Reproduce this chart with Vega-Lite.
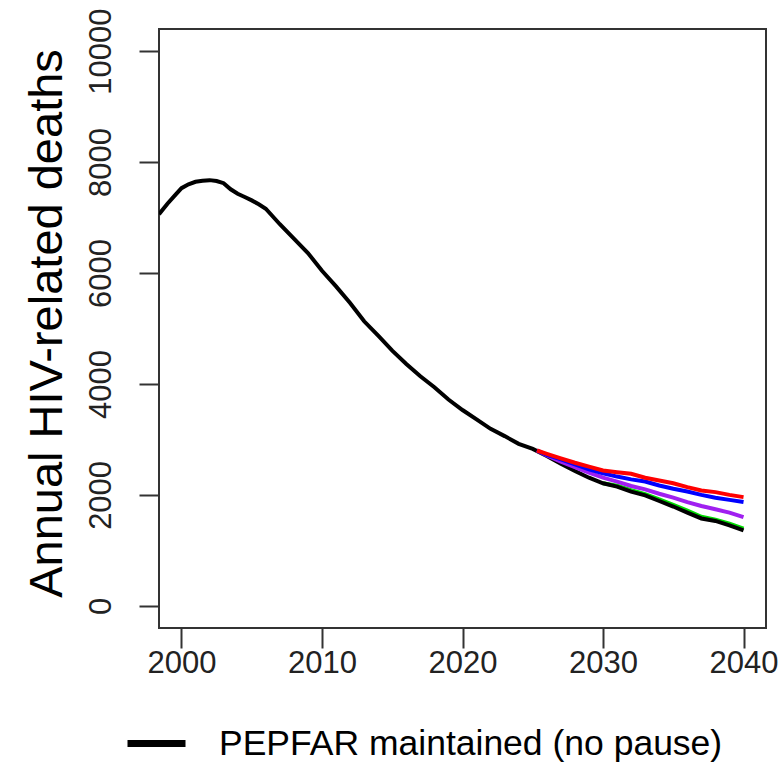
{
  "$schema": "https://vega.github.io/schema/vega-lite/v6.json",
  "width": 607,
  "height": 599,
  "autosize": "none",
  "padding": {"left": 159, "top": 29, "right": 16, "bottom": 143},
  "background": "white",
  "config": {
    "view": {"stroke": "#333333", "strokeWidth": 2},
    "axis": {"grid": false, "domain": false, "tickColor": "#333333", "tickWidth": 2, "tickSize": 20,
             "labelFont": "Liberation Sans", "labelFontSize": 31, "labelColor": "#222222"}
  },
  "data": {"values": [
    {"year": 1998.4, "deaths": 7060, "series": "PEPFAR maintained (no pause)"},
    {"year": 1999.0, "deaths": 7250, "series": "PEPFAR maintained (no pause)"},
    {"year": 1999.5, "deaths": 7390, "series": "PEPFAR maintained (no pause)"},
    {"year": 2000.0, "deaths": 7530, "series": "PEPFAR maintained (no pause)"},
    {"year": 2000.5, "deaths": 7600, "series": "PEPFAR maintained (no pause)"},
    {"year": 2001.0, "deaths": 7645, "series": "PEPFAR maintained (no pause)"},
    {"year": 2001.5, "deaths": 7665, "series": "PEPFAR maintained (no pause)"},
    {"year": 2002.0, "deaths": 7675, "series": "PEPFAR maintained (no pause)"},
    {"year": 2002.5, "deaths": 7660, "series": "PEPFAR maintained (no pause)"},
    {"year": 2003.0, "deaths": 7620, "series": "PEPFAR maintained (no pause)"},
    {"year": 2003.5, "deaths": 7510, "series": "PEPFAR maintained (no pause)"},
    {"year": 2004.0, "deaths": 7430, "series": "PEPFAR maintained (no pause)"},
    {"year": 2004.5, "deaths": 7370, "series": "PEPFAR maintained (no pause)"},
    {"year": 2005.0, "deaths": 7310, "series": "PEPFAR maintained (no pause)"},
    {"year": 2005.5, "deaths": 7240, "series": "PEPFAR maintained (no pause)"},
    {"year": 2006.0, "deaths": 7160, "series": "PEPFAR maintained (no pause)"},
    {"year": 2007.0, "deaths": 6880, "series": "PEPFAR maintained (no pause)"},
    {"year": 2008.0, "deaths": 6620, "series": "PEPFAR maintained (no pause)"},
    {"year": 2009.0, "deaths": 6360, "series": "PEPFAR maintained (no pause)"},
    {"year": 2010.0, "deaths": 6040, "series": "PEPFAR maintained (no pause)"},
    {"year": 2011.0, "deaths": 5760, "series": "PEPFAR maintained (no pause)"},
    {"year": 2012.0, "deaths": 5460, "series": "PEPFAR maintained (no pause)"},
    {"year": 2013.0, "deaths": 5130, "series": "PEPFAR maintained (no pause)"},
    {"year": 2014.0, "deaths": 4870, "series": "PEPFAR maintained (no pause)"},
    {"year": 2015.0, "deaths": 4600, "series": "PEPFAR maintained (no pause)"},
    {"year": 2016.0, "deaths": 4360, "series": "PEPFAR maintained (no pause)"},
    {"year": 2017.0, "deaths": 4140, "series": "PEPFAR maintained (no pause)"},
    {"year": 2018.0, "deaths": 3940, "series": "PEPFAR maintained (no pause)"},
    {"year": 2019.0, "deaths": 3720, "series": "PEPFAR maintained (no pause)"},
    {"year": 2020.0, "deaths": 3530, "series": "PEPFAR maintained (no pause)"},
    {"year": 2021.0, "deaths": 3360, "series": "PEPFAR maintained (no pause)"},
    {"year": 2022.0, "deaths": 3190, "series": "PEPFAR maintained (no pause)"},
    {"year": 2023.0, "deaths": 3060, "series": "PEPFAR maintained (no pause)"},
    {"year": 2024.0, "deaths": 2920, "series": "PEPFAR maintained (no pause)"},
    {"year": 2025.0, "deaths": 2830, "series": "PEPFAR maintained (no pause)"},
    {"year": 2026.0, "deaths": 2700, "series": "PEPFAR maintained (no pause)"},
    {"year": 2027.0, "deaths": 2560, "series": "PEPFAR maintained (no pause)"},
    {"year": 2028.0, "deaths": 2430, "series": "PEPFAR maintained (no pause)"},
    {"year": 2029.0, "deaths": 2310, "series": "PEPFAR maintained (no pause)"},
    {"year": 2030.0, "deaths": 2210, "series": "PEPFAR maintained (no pause)"},
    {"year": 2031.0, "deaths": 2150, "series": "PEPFAR maintained (no pause)"},
    {"year": 2032.0, "deaths": 2060, "series": "PEPFAR maintained (no pause)"},
    {"year": 2033.0, "deaths": 1990, "series": "PEPFAR maintained (no pause)"},
    {"year": 2034.0, "deaths": 1890, "series": "PEPFAR maintained (no pause)"},
    {"year": 2035.0, "deaths": 1790, "series": "PEPFAR maintained (no pause)"},
    {"year": 2036.0, "deaths": 1680, "series": "PEPFAR maintained (no pause)"},
    {"year": 2037.0, "deaths": 1575, "series": "PEPFAR maintained (no pause)"},
    {"year": 2038.0, "deaths": 1530, "series": "PEPFAR maintained (no pause)"},
    {"year": 2039.0, "deaths": 1450, "series": "PEPFAR maintained (no pause)"},
    {"year": 2040.0, "deaths": 1360, "series": "PEPFAR maintained (no pause)"},

    {"year": 2030.0, "deaths": 2210, "series": "Scenario 4"},
    {"year": 2031.0, "deaths": 2165, "series": "Scenario 4"},
    {"year": 2032.0, "deaths": 2085, "series": "Scenario 4"},
    {"year": 2033.0, "deaths": 2015, "series": "Scenario 4"},
    {"year": 2034.0, "deaths": 1920, "series": "Scenario 4"},
    {"year": 2035.0, "deaths": 1820, "series": "Scenario 4"},
    {"year": 2036.0, "deaths": 1715, "series": "Scenario 4"},
    {"year": 2037.0, "deaths": 1605, "series": "Scenario 4"},
    {"year": 2038.0, "deaths": 1555, "series": "Scenario 4"},
    {"year": 2039.0, "deaths": 1480, "series": "Scenario 4"},
    {"year": 2040.0, "deaths": 1390, "series": "Scenario 4"},

    {"year": 2025.3, "deaths": 2800, "series": "Scenario 3"},
    {"year": 2026.0, "deaths": 2710, "series": "Scenario 3"},
    {"year": 2027.0, "deaths": 2600, "series": "Scenario 3"},
    {"year": 2028.0, "deaths": 2500, "series": "Scenario 3"},
    {"year": 2029.0, "deaths": 2400, "series": "Scenario 3"},
    {"year": 2030.0, "deaths": 2310, "series": "Scenario 3"},
    {"year": 2031.0, "deaths": 2240, "series": "Scenario 3"},
    {"year": 2032.0, "deaths": 2160, "series": "Scenario 3"},
    {"year": 2033.0, "deaths": 2100, "series": "Scenario 3"},
    {"year": 2034.0, "deaths": 2020, "series": "Scenario 3"},
    {"year": 2035.0, "deaths": 1950, "series": "Scenario 3"},
    {"year": 2036.0, "deaths": 1870, "series": "Scenario 3"},
    {"year": 2037.0, "deaths": 1800, "series": "Scenario 3"},
    {"year": 2038.0, "deaths": 1740, "series": "Scenario 3"},
    {"year": 2039.0, "deaths": 1680, "series": "Scenario 3"},
    {"year": 2040.0, "deaths": 1600, "series": "Scenario 3"},

    {"year": 2025.3, "deaths": 2800, "series": "Scenario 2"},
    {"year": 2026.0, "deaths": 2720, "series": "Scenario 2"},
    {"year": 2027.0, "deaths": 2640, "series": "Scenario 2"},
    {"year": 2028.0, "deaths": 2550, "series": "Scenario 2"},
    {"year": 2029.0, "deaths": 2460, "series": "Scenario 2"},
    {"year": 2030.0, "deaths": 2390, "series": "Scenario 2"},
    {"year": 2031.0, "deaths": 2330, "series": "Scenario 2"},
    {"year": 2032.0, "deaths": 2280, "series": "Scenario 2"},
    {"year": 2033.0, "deaths": 2240, "series": "Scenario 2"},
    {"year": 2034.0, "deaths": 2170, "series": "Scenario 2"},
    {"year": 2035.0, "deaths": 2110, "series": "Scenario 2"},
    {"year": 2036.0, "deaths": 2060, "series": "Scenario 2"},
    {"year": 2037.0, "deaths": 2000, "series": "Scenario 2"},
    {"year": 2038.0, "deaths": 1950, "series": "Scenario 2"},
    {"year": 2039.0, "deaths": 1910, "series": "Scenario 2"},
    {"year": 2040.0, "deaths": 1870, "series": "Scenario 2"},

    {"year": 2025.3, "deaths": 2800, "series": "Scenario 1"},
    {"year": 2026.0, "deaths": 2740, "series": "Scenario 1"},
    {"year": 2027.0, "deaths": 2660, "series": "Scenario 1"},
    {"year": 2028.0, "deaths": 2580, "series": "Scenario 1"},
    {"year": 2029.0, "deaths": 2510, "series": "Scenario 1"},
    {"year": 2030.0, "deaths": 2440, "series": "Scenario 1"},
    {"year": 2031.0, "deaths": 2410, "series": "Scenario 1"},
    {"year": 2032.0, "deaths": 2380, "series": "Scenario 1"},
    {"year": 2033.0, "deaths": 2310, "series": "Scenario 1"},
    {"year": 2034.0, "deaths": 2260, "series": "Scenario 1"},
    {"year": 2035.0, "deaths": 2210, "series": "Scenario 1"},
    {"year": 2036.0, "deaths": 2140, "series": "Scenario 1"},
    {"year": 2037.0, "deaths": 2080, "series": "Scenario 1"},
    {"year": 2038.0, "deaths": 2050, "series": "Scenario 1"},
    {"year": 2039.0, "deaths": 2000, "series": "Scenario 1"},
    {"year": 2040.0, "deaths": 1960, "series": "Scenario 1"}
  ]},
  "encoding": {
    "x": {"field": "year", "type": "quantitative",
          "scale": {"domain": [1998.4, 2041.6], "nice": false, "zero": false},
          "axis": {"title": null, "values": [2000, 2010, 2020, 2030, 2040], "format": "d", "labelPadding": 0}},
    "y": {"field": "deaths", "type": "quantitative",
          "scale": {"domain": [-400, 10400], "nice": false, "zero": false},
          "axis": {"title": "Annual HIV-related deaths", "values": [0, 2000, 4000, 6000, 8000, 10000], "format": "d",
                   "labelAngle": -90, "labelAlign": "center", "labelBaseline": "alphabetic", "labelPadding": 29,
                   "titleFont": "Liberation Sans", "titleFontSize": 47, "titleFontWeight": "normal", "titleColor": "black",
                   "titleAngle": -90, "titleAlign": "center", "titleBaseline": "alphabetic", "titleX": -98, "titleY": 294}},
    "color": {"field": "series", "type": "nominal",
              "scale": {"domain": ["PEPFAR maintained (no pause)", "Scenario 1", "Scenario 2", "Scenario 3", "Scenario 4"],
                        "range": ["#000000", "#FF0000", "#0000FF", "#A020F0", "#00DD00"]},
              "legend": {"values": ["PEPFAR maintained (no pause)"], "title": null, "orient": "none",
                         "legendX": -35, "legendY": 682, "symbolType": "stroke", "symbolStrokeWidth": 7,
                         "symbolSize": 3364, "labelFont": "Liberation Sans", "labelFontSize": 35.5, "labelLimit": 0,
                         "labelColor": "black", "labelOffset": 30}}
  },
  "layer": [
    {"transform": [{"filter": "datum.series === 'Scenario 4'"}],
     "mark": {"type": "line", "strokeWidth": 4, "clip": true}},
    {"transform": [{"filter": "datum.series === 'PEPFAR maintained (no pause)'"}],
     "mark": {"type": "line", "strokeWidth": 4, "clip": true}},
    {"transform": [{"filter": "datum.series === 'Scenario 3' || datum.series === 'Scenario 2' || datum.series === 'Scenario 1'"}],
     "mark": {"type": "line", "strokeWidth": 4, "clip": true}}
  ]
}
